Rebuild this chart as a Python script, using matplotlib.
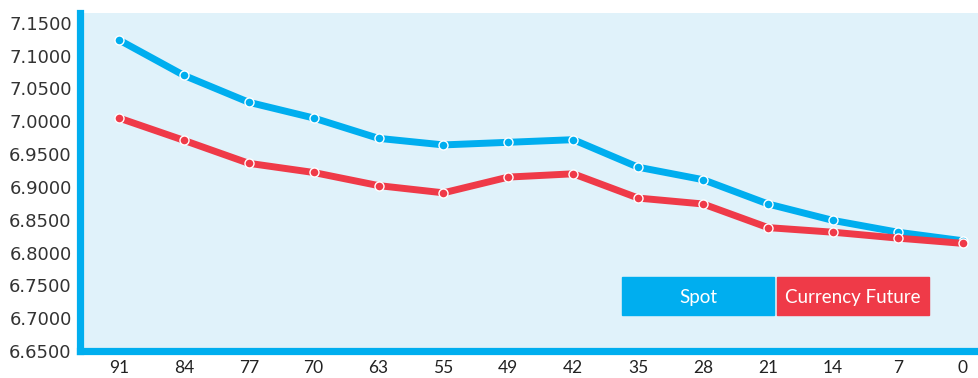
import matplotlib
matplotlib.use('Agg')
import matplotlib.pyplot as plt
from matplotlib.patches import Rectangle

# days to expiry and rates
days = ['91', '84', '77', '70', '63', '55', '49', '42', '35', '28', '21', '14', '7', '0']
spot = [7.124, 7.070, 7.029, 7.005, 6.974, 6.964, 6.968, 6.972,
        6.930, 6.911, 6.874, 6.849, 6.831, 6.818]
future = [7.005, 6.971, 6.936, 6.922, 6.902, 6.891, 6.915, 6.920,
          6.883, 6.874, 6.838, 6.831, 6.822, 6.814]
y_ticks = [6.65, 6.70, 6.75, 6.80, 6.85, 6.90, 6.95, 7.00, 7.05, 7.10, 7.15]

BLUE = '#00aeef'
RED = '#ef3a48'
BG = '#e0f2fa'

W, H = 979, 378
fig = plt.figure(figsize=(W / 100, H / 100), dpi=100)
ax = fig.add_axes([80 / W, (H - 351) / H, (W - 80) / W, (351 - 13) / H])
ax.set_facecolor(BG)

x = list(range(len(days)))
for vals, col in [(spot, BLUE), (future, RED)]:
    ax.plot(x, vals, color=col, lw=5, solid_joinstyle='round', solid_capstyle='round',
            marker='o', ms=6.5, mfc=col, mec='white', mew=1.0, zorder=3)

ax.set_xlim(-0.6, 13.25)
ax.set_ylim(6.65, 7.165)
ax.set_xticks(x)
ax.set_xticklabels(days, fontsize=12.5, family='Lato', color='#222222')
ax.set_yticks(y_ticks)
ax.set_yticklabels(['%.4f' % v for v in y_ticks], fontsize=13, color='#333333')
ax.tick_params(length=0)
ax.tick_params(axis='x', pad=6.5)
ax.tick_params(axis='y', pad=6)

for s in ['top', 'right']:
    ax.spines[s].set_visible(False)
for s in ['left', 'bottom']:
    ax.spines[s].set_color(BLUE)
    ax.spines[s].set_linewidth(5.2)
    ax.spines[s].set_capstyle('projecting')

# legend boxes
for (label, col, x0) in [('Spot', BLUE, 622), ('Currency Future', RED, 777)]:
    fig.patches.append(Rectangle((x0 / W, (H - 315) / H), 152 / W, 38 / H,
                                 transform=fig.transFigure, color=col, zorder=5))
    fig.text((x0 + 76) / W, (H - 297) / H, label, color='white', fontsize=13.5,
             family='Lato', ha='center', va='center', zorder=6)

fig.savefig('out.png', dpi=100)
